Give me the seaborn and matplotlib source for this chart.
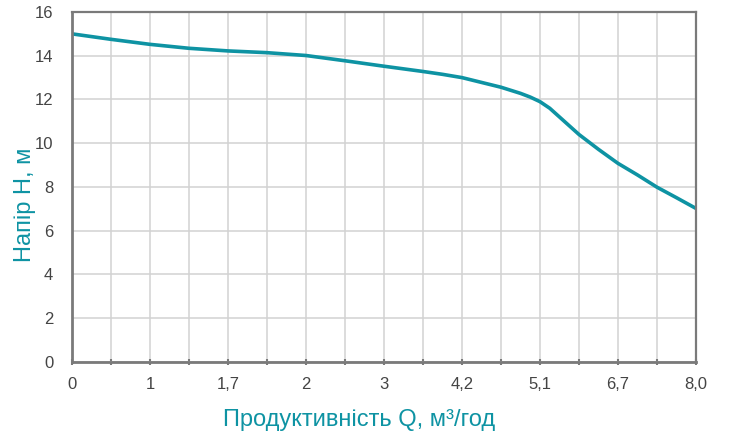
import numpy as np
import pandas as pd
import matplotlib.pyplot as plt
import seaborn as sns

# Head curve (grid positions, labels are not to scale)
tick_labels = ["0", "1", "1,7", "2", "3", "4,2", "5,1", "6,7", "8,0"]
positions = [0, 0.5, 1, 1.5, 2, 2.5, 3, 3.5, 4, 4.5, 4.75, 5, 5.25, 5.5, 5.75,
             5.875, 6, 6.125, 6.25, 6.5, 6.75, 7, 7.25, 7.5, 7.75, 8]
head = [15.0, 14.75, 14.52, 14.34, 14.22, 14.14, 14.01, 13.77, 13.52,
        13.28, 13.15, 13.0, 12.78, 12.56, 12.28, 12.11, 11.9, 11.6, 11.2,
        10.4, 9.72, 9.08, 8.55, 7.99, 7.51, 7.02]

teal = "#0e93a3"
axis_gray = "#7a7a7a"
text_gray = "#444444"

sns.set_style("white")
plt.rcParams['font.family'] = ['Liberation Sans', 'DejaVu Sans']

df = pd.DataFrame({"pos": positions, "head": head})

fig = plt.figure(figsize=(7.33, 4.42), dpi=100)
ax = fig.add_axes([0.0982, 0.181, 0.8513, 0.7919])

sns.lineplot(data=df, x="pos", y="head", ax=ax, color=teal, linewidth=2.6)
for ln in ax.lines:
    ln.set_solid_joinstyle("round")
    ln.set_solid_capstyle("round")

ax.set_xlim(0, 8)
ax.set_ylim(0, 16)
ax.set_xticks(range(len(tick_labels)))
ax.set_xticklabels(tick_labels)
ax.set_xticks(np.arange(0.5, 8, 1), minor=True)
ax.set_yticks(range(0, 17, 2))

ax.grid(True, which="both", axis="x", color="#d2d2d2", linewidth=1.1)
ax.grid(True, which="major", axis="y", color="#d2d2d2", linewidth=1.1)
ax.set_axisbelow(True)

for side in ["left", "bottom"]:
    ax.spines[side].set_color(axis_gray)
    ax.spines[side].set_linewidth(2)
for side in ["top", "right"]:
    ax.spines[side].set_color(axis_gray)
    ax.spines[side].set_linewidth(1.6)

ax.tick_params(axis="x", which="both", bottom=True, length=5, width=1.5,
               color=axis_gray, labelsize=12, labelcolor=text_gray, pad=8,
               direction="inout")
ax.tick_params(axis="y", left=False, labelsize=12, labelcolor=text_gray, pad=10)

ax.set_xlabel("Продуктивність Q, м³/год", fontsize=17, color=teal)
ax.xaxis.set_label_coords(0.46, -0.135)
ax.set_ylabel("Напір Н, м", fontsize=17, color=teal)
ax.yaxis.set_label_coords(-0.058, 0.45)

fig.savefig("out.png", dpi=100)
